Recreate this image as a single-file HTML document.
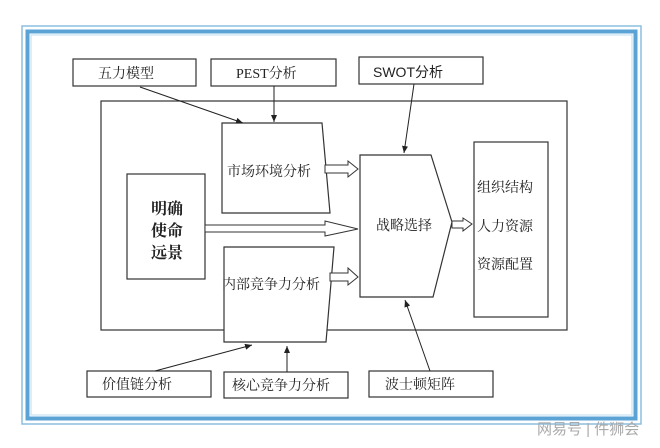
<!DOCTYPE html>
<html><head><meta charset="utf-8"><style>
html,body{margin:0;padding:0;background:#fff;}
svg text{font-family:"Liberation Serif","Noto Serif CJK SC",serif;fill:#222;}
</style></head><body>
<svg width="660" height="443" viewBox="0 0 660 443" xmlns="http://www.w3.org/2000/svg">
<defs><marker id="a" markerWidth="8" markerHeight="8" refX="7" refY="4" orient="auto" markerUnits="userSpaceOnUse"><path d="M0,1 L7,4 L0,7 z" fill="#222"/></marker></defs>
<rect x="22" y="26" width="619" height="398" fill="none" stroke="#8cbfe0" stroke-width="1.5"/>
<rect x="27.5" y="31.5" width="608" height="387" fill="none" stroke="#5ba3d4" stroke-width="4"/>
<rect x="31" y="35" width="601" height="380" fill="none" stroke="#bcdcf0" stroke-width="1"/>
<g stroke="#333" stroke-width="1.2" fill="#fff">
<rect x="101" y="101" width="466" height="229"/>
<rect x="73" y="59" width="123" height="27"/>
<rect x="211" y="59" width="125" height="27"/>
<rect x="359" y="57" width="124" height="27"/>
<rect x="87" y="371" width="124" height="26"/>
<rect x="224" y="372" width="124" height="26"/>
<rect x="369" y="371" width="124" height="26"/>
<rect x="127" y="174" width="78" height="105"/>
<rect x="474" y="142" width="74" height="175"/>
<path d="M222,123 L322,123 L330,213 L222,213 Z"/>
<path d="M224,247 L334,247 L326,342 L224,342 Z"/>
<path d="M360,155 L431,155 L452,222 L433,297 L360,297 Z"/>
</g>
<g stroke="#333" stroke-width="1" fill="#fff">
<path d="M325,165 L348,165 L348,161 L358,169 L348,177 L348,173 L325,173 Z"/>
<path d="M330,273 L348,273 L348,268 L358,277 L348,285 L348,281 L330,281 Z"/>
<path d="M205,225 L325,225 L325,221 L358,229 L325,236 L325,232 L205,232 Z"/>
<path d="M452,221 L463,221 L463,218 L472,224 L463,231 L463,228 L452,228 Z"/>
</g>
<g stroke="#222" stroke-width="1" marker-end="url(#a)">
<line x1="140" y1="87" x2="243" y2="123"/>
<line x1="274" y1="86" x2="274" y2="122"/>
<line x1="414" y1="84" x2="404" y2="153"/>
<line x1="155" y1="371" x2="252" y2="345"/>
<line x1="287" y1="372" x2="287" y2="346"/>
<line x1="430" y1="371" x2="405" y2="300"/>
</g>
<g font-size="14">
<text x="98" y="78">五力模型</text>
<text x="236" y="78">PEST分析</text>
<text x="373" y="77" style="font-family:'Liberation Sans','Noto Sans CJK SC',sans-serif">SWOT分析</text>
<text x="102" y="389">价值链分析</text>
<text x="232" y="390">核心竞争力分析</text>
<text x="385" y="389">波士顿矩阵</text>
<text x="227" y="176">市场环境分析</text>
<text x="222" y="289">内部竞争力分析</text>
<text x="376" y="230">战略选择</text>
<text x="477" y="192">组织结构</text>
<text x="477" y="231">人力资源</text>
<text x="477" y="269">资源配置</text>
</g>
<g font-size="16" font-weight="bold" style="font-family:'Liberation Sans','Noto Sans CJK SC',sans-serif">
<text x="151" y="214">明确</text>
<text x="151" y="236">使命</text>
<text x="151" y="258">远景</text>
</g>
<text x="537" y="434" font-size="15" style="fill:#aaa;font-family:'Liberation Sans','Noto Sans CJK SC',sans-serif">网易号 | 件狮会</text>
</svg>
</body></html>
